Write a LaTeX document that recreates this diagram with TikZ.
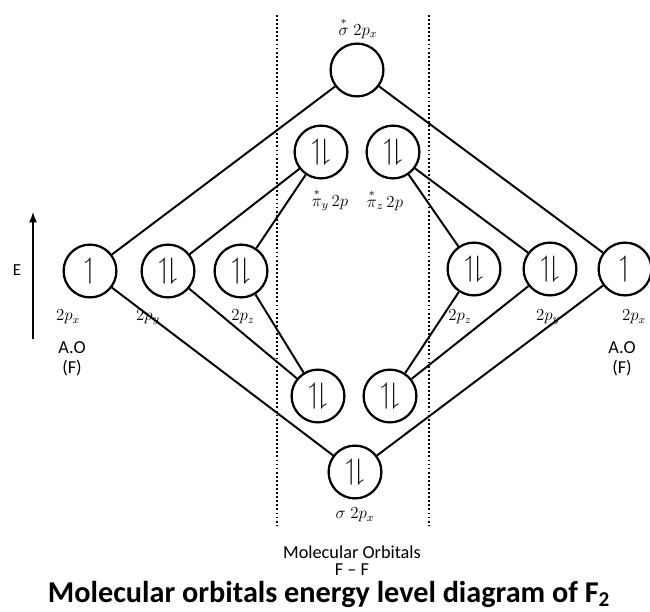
\documentclass[tikz,border=0pt]{standalone}
\usepackage{amsmath,amssymb}
\usepackage{graphicx}
\usepackage{fontspec}
\setmainfont{Carlito}
\usetikzlibrary{arrows.meta,positioning}
\newcommand{\spinup}{\scalebox{2.1}{$\upharpoonleft$}}
\newcommand{\spinpair}{\scalebox{2.1}{$\upharpoonleft\!\downharpoonright$}}
\tikzset{
  orb/.style={circle,draw,line width=1.6pt,minimum size=1.32cm,inner sep=0pt},
  bond/.style={line width=1.4pt},
  lbl/.style={font=\large,inner sep=0pt},
  aolbl/.style={font=\fontsize{13}{14}\selectfont,inner sep=0pt,align=center},
  divider/.style={line width=1.3pt,dash pattern=on 1.3pt off 1.6pt}
}

\begin{document}
\begin{tikzpicture}[x=0.025cm,y=-0.025cm]
  \useasboundingbox (0,0) rectangle (650,611);
  % molecular orbitals
  \node[orb] (sstar) at (357,70) {};
  \node[orb] (pystar) at (321,152) {\spinpair};
  \node[orb] (pzstar) at (393,152) {\spinpair};
  \node[orb] (py) at (318,396) {\spinpair};
  \node[orb] (pz) at (390,396) {\spinpair};
  \node[orb] (sig) at (355,472) {\spinpair};
  % atomic orbitals
  \node[orb] (lx) at (90,271) {\spinup};
  \node[orb] (ly) at (168,271) {\spinpair};
  \node[orb] (lz) at (241,271) {\spinpair};
  \node[orb] (rz) at (474,269) {\spinpair};
  \node[orb] (ry) at (550,269) {\spinpair};
  \node[orb] (rx) at (625,269) {\spinup};
  % links
  \draw[bond] (lx) -- (sstar); \draw[bond] (rx) -- (sstar);
  \draw[bond] (lx) -- (sig); \draw[bond] (rx) -- (sig);
  \draw[bond] (ly) -- (pystar); \draw[bond] (lz) -- (pystar);
  \draw[bond] (ly) -- (py); \draw[bond] (lz) -- (py);
  \draw[bond] (rz) -- (pzstar); \draw[bond] (ry) -- (pzstar);
  \draw[bond] (rz) -- (pz); \draw[bond] (ry) -- (pz);
  % dividers
  \coordinate (d1t) at (277,15); \coordinate (d1b) at (277,525);
  \coordinate (d2t) at (429,15); \coordinate (d2b) at (429,525);
  \draw[divider] (d1t) -- (d1b);
  \draw[divider] (d2t) -- (d2b);
  % energy axis
  \coordinate (etop) at (33,212); \coordinate (ebot) at (33,339);
  \draw[-{Latex[length=2.6mm,width=2mm]},line width=1pt] (ebot) -- (etop);
  \node[lbl] (elbl) at (17,270) {E};
  % labels
  \node[lbl] (sstarlbl) at (358,28) {$\overset{*}{\sigma}\;2p_x$};
  \node[lbl] (pystarlbl) at (330,200) {$\overset{*}{\pi}_y\,2p$};
  \node[lbl] (pzstarlbl) at (385,200) {$\overset{*}{\pi}_z\,2p$};
  \node[lbl] (siglbl) at (355,515) {$\sigma\;2p_x$};
  \node[lbl] (lxlbl) at (68,317) {$2p_x$};
  \node[lbl] (lylbl) at (148,317) {$2p_y$};
  \node[lbl] (lzlbl) at (243,317) {$2p_z$};
  \node[lbl] (rzlbl) at (460,317) {$2p_z$};
  \node[lbl] (rylbl) at (548,317) {$2p_y$};
  \node[lbl] (rxlbl) at (634,317) {$2p_x$};
  \node[aolbl] (laolbl) at (72,359) {A.O\\(F)};
  \node[aolbl] (raolbl) at (622,359) {A.O\\(F)};
  \node[align=center,inner sep=0pt,font=\fontsize{13}{12}\selectfont] (molbl) at (352,561) {Molecular Orbitals\\F -- F};
  \node[inner sep=0pt,font=\fontsize{21.5}{24}\selectfont\bfseries] (title) at (329,594) {Molecular orbitals energy level diagram of F\textsubscript{2}};
\end{tikzpicture}
\end{document}
